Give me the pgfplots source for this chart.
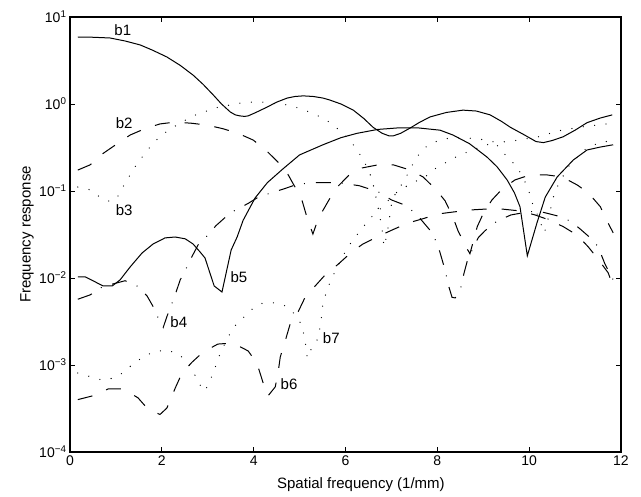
\documentclass[border=0pt]{standalone}
\usepackage{fontspec}
\setmainfont{Liberation Sans}
\usepackage{pgfplots}
\pgfplotsset{compat=1.18}

\pgfplotsset{
  mlsolid/.style={black, line width=1pt, solid},
  mldash/.style={black, line width=1pt, dash pattern=on 15pt off 15pt},
  mldot/.style={black, line width=1.3pt, line cap=round, dash pattern=on 0pt off 11.5pt},
  mldashdot/.style={black, line width=1pt, dash pattern=on 15pt off 11pt on 0.9pt off 11pt},
}
\newcommand{\tickfont}{\fontsize{14}{16}\selectfont}
\newcommand{\lblfont}{\fontsize{15}{18}\selectfont}

\begin{document}
\begin{tikzpicture}
\path[use as bounding box] (-70pt,-45pt) rectangle (571pt,452pt);
\begin{axis}[
  at={(0pt,0pt)}, anchor=south west,
  scale only axis, width=551pt, height=435pt,
  xmin=0, xmax=12, ymin=1e-4, ymax=10,
  ymode=log, log basis y=10,
  xtick={0,2,4,6,8,10,12},
  xticklabels={0,2,4,6,8,10,12},
  ytick={1e-4,1e-3,1e-2,1e-1,1,10},
  yticklabels={10\textsuperscript{−4},10\textsuperscript{−3},10\textsuperscript{−2},10\textsuperscript{−1},10\textsuperscript{0},10\textsuperscript{1}},
  tick label style={font=\tickfont},
  major tick length=5pt, minor tick length=3pt,
  every tick/.style={black, line width=0.7pt},
  axis line style={line width=1.1pt},
  xlabel={Spatial frequency (1/mm)},
  ylabel={Frequency response},
  every axis x label/.style={at={(axis description cs:0.528,-0.074)}, anchor=center, font=\lblfont},
  every axis y label/.style={at={(axis description cs:-0.078,0.5)}, rotate=90, anchor=center, font=\lblfont},
  clip=false,
]

% b1
\addplot[mlsolid] coordinates {
(0.17,5.89) (0.5,5.85) (0.87,5.74) (1.2,5.3) (1.53,4.77) (1.8,4.15) (2.11,3.47)
(2.4,2.78) (2.68,2.15) (2.9,1.68) (3.12,1.27) (3.3,1.0) (3.49,0.81) (3.6,0.75)
(3.7,0.73) (3.8,0.72) (3.88,0.73) (4.05,0.8) (4.29,0.92) (4.5,1.05) (4.73,1.17)
(4.9,1.22) (5.08,1.24) (5.3,1.22) (5.51,1.17) (5.66,1.11) (5.9,1.0) (6.17,0.85)
(6.4,0.68) (6.6,0.54) (6.8,0.46) (6.95,0.43) (7.04,0.43) (7.2,0.46) (7.41,0.53)
(7.6,0.61) (7.84,0.71) (8.2,0.8) (8.56,0.85) (8.85,0.83) (9.15,0.75) (9.4,0.63)
(9.59,0.54) (9.9,0.44) (10.15,0.37) (10.31,0.36) (10.5,0.38) (10.74,0.42)
(11.0,0.5) (11.26,0.61) (11.55,0.69) (11.81,0.75)
};

% b2
\addplot[mldash] coordinates {
(0.17,0.174) (0.44,0.2) (0.72,0.27) (1.05,0.356) (1.31,0.44) (1.63,0.52)
(1.96,0.59) (2.29,0.62) (2.66,0.6) (3.0,0.57) (3.33,0.52) (3.66,0.46) (3.99,0.385)
(4.25,0.3) (4.53,0.215) (4.73,0.161) (4.9,0.111) (5.05,0.079) (5.16,0.05)
(5.29,0.032) (5.4,0.047) (5.51,0.06) (5.64,0.079) (5.82,0.111) (6.08,0.153)
(6.36,0.184) (6.71,0.2) (7.04,0.2) (7.41,0.174) (7.69,0.145) (7.97,0.104)
(8.17,0.077) (8.34,0.05) (8.45,0.035) (8.6,0.024) (8.71,0.019) (8.87,0.039)
(9.0,0.055) (9.19,0.079) (9.41,0.105) (9.69,0.134) (10.02,0.153) (10.39,0.153)
(10.72,0.145) (11.05,0.117) (11.29,0.095) (11.55,0.066) (11.68,0.047) (11.83,0.033)
};

% b3
\addplot[mldot] coordinates {
(0.17,0.111) (0.44,0.103) (0.65,0.085) (0.89,0.075) (1.07,0.09) (1.2,0.124)
(1.35,0.166) (1.48,0.215) (1.66,0.28) (1.81,0.356) (2.0,0.44) (2.22,0.53)
(2.44,0.62) (2.68,0.73) (2.92,0.81) (3.16,0.9) (3.68,1.02) (3.94,1.05) (4.2,1.05)
(4.73,0.975) (4.97,0.9) (5.21,0.81) (5.45,0.71) (5.69,0.6) (5.88,0.49) (6.06,0.4)
(6.23,0.31) (6.36,0.24) (6.49,0.18) (6.58,0.134) (6.64,0.098) (6.69,0.073)
(6.75,0.05) (6.8,0.035) (6.84,0.023) (6.9,0.031) (6.95,0.045) (6.98,0.06)
(7.02,0.081) (7.1,0.095) (7.19,0.111) (7.32,0.145) (7.5,0.22) (7.67,0.3)
(7.9,0.36) (8.2,0.4) (8.6,0.41) (9.0,0.39) (9.3,0.36) (9.7,0.38) (10.2,0.42)
(10.7,0.5) (11.2,0.55) (11.8,0.6)
};

% b4
\addplot[mldashdot] coordinates {
(0.17,0.0057) (0.44,0.0064) (0.72,0.008) (0.92,0.0085) (1.2,0.0093) (1.48,0.008)
(1.68,0.0062) (1.81,0.0047) (1.94,0.0033) (2.03,0.0027) (2.11,0.0036)
(2.22,0.0051) (2.31,0.0069) (2.4,0.0095) (2.55,0.0135) (2.66,0.0178)
(2.79,0.024) (3.0,0.031) (3.18,0.04) (3.49,0.056) (3.88,0.072) (4.1,0.085)
(4.4,0.096) (4.64,0.105) (4.9,0.117) (5.2,0.124) (5.5,0.125) (5.88,0.124)
(6.3,0.115) (6.71,0.098) (7.0,0.079) (7.32,0.068) (7.56,0.053) (7.89,0.033)
(8.02,0.023) (8.17,0.0123) (8.24,0.0083) (8.32,0.006) (8.39,0.0059)
(8.52,0.008) (8.58,0.0113) (8.67,0.017) (8.76,0.021) (8.89,0.029) (9.04,0.035)
(9.3,0.045) (9.6,0.053) (10.0,0.058) (10.3,0.057) (10.6,0.052) (10.9,0.045)
(11.1,0.037) (11.33,0.029) (11.5,0.023) (11.65,0.0145) (11.83,0.0095)
};

% b5
\addplot[mlsolid] coordinates {
(0.17,0.0103) (0.33,0.0103) (0.5,0.0093) (0.72,0.0081) (0.92,0.0081)
(1.09,0.0095) (1.31,0.0134) (1.57,0.0194) (1.81,0.0246) (2.07,0.0289)
(2.29,0.0296) (2.51,0.0282) (2.68,0.0246) (2.83,0.02) (2.94,0.017)
(3.14,0.0081) (3.31,0.0069) (3.51,0.021) (3.64,0.0296) (3.77,0.046)
(4.03,0.083) (4.3,0.125) (4.64,0.18) (5.0,0.26) (5.51,0.34) (5.9,0.41)
(6.25,0.46) (6.7,0.51) (7.12,0.53) (7.6,0.53) (8.06,0.5) (8.34,0.44) (8.7,0.35)
(9.08,0.246) (9.3,0.19) (9.52,0.134) (9.68,0.095) (9.8,0.066) (9.96,0.018)
(10.17,0.043) (10.35,0.085) (10.61,0.145) (10.96,0.227) (11.26,0.296)
(11.55,0.32) (11.83,0.34)
};

% b6
\addplot[mldash] coordinates {
(0.17,0.0004) (0.48,0.00044) (0.83,0.00053) (1.15,0.00053) (1.48,0.00042)
(1.7,0.00031) (1.96,0.00027) (2.11,0.00032) (2.29,0.00054) (2.44,0.00081)
(2.66,0.00108) (2.9,0.00141) (3.22,0.00174) (3.55,0.00179) (3.88,0.00145)
(4.07,0.00105) (4.18,0.00069) (4.27,0.00048) (4.31,0.00044) (4.47,0.00056)
(4.53,0.00081) (4.58,0.00124) (4.68,0.00184) (4.79,0.0029) (4.97,0.0041)
(5.12,0.006) (5.34,0.0081) (5.6,0.0115) (5.82,0.0141) (6.14,0.02) (6.38,0.0246)
(6.73,0.0304) (7.02,0.0357) (7.36,0.0429) (7.67,0.0477) (8.02,0.0545)
(8.34,0.0573) (8.71,0.0605) (9.06,0.062) (9.41,0.062) (9.8,0.059) (10.13,0.053)
(10.41,0.047) (10.74,0.039) (11.05,0.031) (11.29,0.0227) (11.48,0.017)
(11.72,0.0115) (11.83,0.008)
};

% b7
\addplot[mldot] coordinates {
(0.17,0.00081) (0.46,0.00073) (0.7,0.00067) (0.96,0.00071) (1.18,0.00083)
(1.37,0.00103) (1.59,0.00123) (1.81,0.00141) (2.07,0.00148) (2.33,0.00138)
(2.53,0.00112) (2.68,0.00086) (2.79,0.00063) (2.94,0.0005) (3.03,0.00063)
(3.14,0.00086) (3.22,0.00117) (3.33,0.00158) (3.44,0.00209) (3.57,0.00274)
(3.77,0.00348) (3.97,0.00439) (4.18,0.0051) (4.42,0.0052) (4.68,0.0048)
(4.86,0.004) (5.05,0.0029) (5.12,0.0019) (5.17,0.0012) (5.27,0.0016)
(5.4,0.002) (5.45,0.0028) (5.49,0.004) (5.51,0.0053) (5.6,0.0072) (5.69,0.0098)
(5.82,0.013) (5.93,0.0174) (6.06,0.023) (6.21,0.0295) (6.36,0.037) (6.54,0.049)
(6.69,0.057) (6.9,0.075) (7.1,0.095) (7.4,0.12) (7.73,0.145) (7.95,0.18)
(8.2,0.215) (8.4,0.245) (8.65,0.28) (9.0,0.33) (9.25,0.36) (9.54,0.24)
(9.74,0.19) (9.98,0.108) (10.04,0.079) (10.2,0.05) (10.33,0.033) (10.46,0.059)
(10.52,0.083) (10.61,0.111) (10.85,0.19) (11.2,0.296) (11.5,0.356) (11.8,0.38)
};

% curve labels
\node[font=\lblfont] at (axis cs:1.15,7.08) {b1};
\node[font=\lblfont] at (axis cs:1.18,0.605) {b2};
\node[font=\lblfont] at (axis cs:1.18,0.0605) {b3};
\node[font=\lblfont] at (axis cs:2.37,0.00312) {b4};
\node[font=\lblfont] at (axis cs:3.68,0.01026) {b5};
\node[font=\lblfont] at (axis cs:4.77,0.000605) {b6};
\node[font=\lblfont] at (axis cs:5.69,0.00204) {b7};
\end{axis}
\end{tikzpicture}
\end{document}
